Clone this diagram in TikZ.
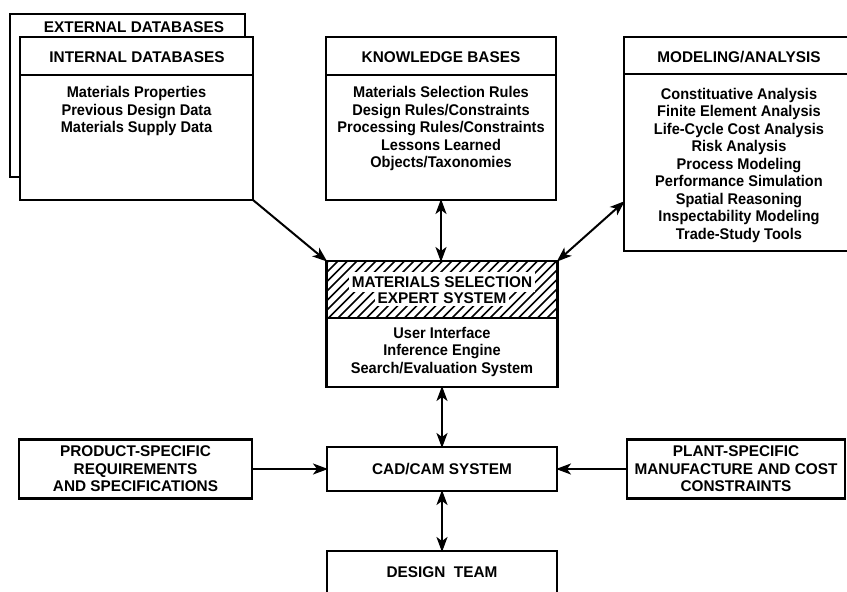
\documentclass[tikz,border=0pt]{standalone}
\usepackage{fontspec}
\newfontfamily\dgfont{Liberation Sans Bold}[FakeStretch=0.94]
\newfontfamily\dgcaps{Liberation Sans Bold}[FakeStretch=0.99]
\usetikzlibrary{arrows.meta,calc}

\tikzset{
  x=1pt, y=-1pt,
  box/.style={draw, line width=2.2pt, fill=white, inner sep=0pt, outer sep=0pt},
  lbl/.style={font=\dgfont\fontsize{15.5pt}{17.5pt}\selectfont, align=center, inner sep=0pt},
  capslbl/.style={font=\dgcaps\fontsize{15.5pt}{17.5pt}\selectfont, align=center, inner sep=0pt},
  knock/.style={capslbl, fill=white, text height=11pt, text depth=0pt, inner xsep=2.5pt},
  rule/.style={line width=2.2pt},
  hatch/.style={line width=1.6pt},
  tip/.tip={Stealth[length=15pt,width=11pt,inset=4pt]},
  onearrow/.style={line width=2pt, -tip, shorten >=-1pt},
  twoarrow/.style={line width=2pt, tip-tip, shorten >=-1pt, shorten <=-1pt},
}

\begin{document}
\begin{tikzpicture}
\useasboundingbox (0,0) rectangle (847,592);

% database stack
\node[box, minimum width=235, minimum height=163] (ext) at (127.5,95.5) {};
\node[capslbl] (extH) at (134,27) {EXTERNAL DATABASES};
\node[box, minimum width=233, minimum height=163] (int) at (136.5,118.5) {};
\draw[rule] ($(int.north west)+(0,38)$) -- ($(int.north east)+(0,38)$);
\node[capslbl] (intH) at (137,57) {INTERNAL DATABASES};
\node[lbl] (intB) at (136.5,111) {Materials Properties\\Previous Design Data\\Materials Supply Data};

% knowledge bases
\node[box, minimum width=230, minimum height=163] (kb) at (441,118.5) {};
\draw[rule] ($(kb.north west)+(0,38)$) -- ($(kb.north east)+(0,38)$);
\node[capslbl] (kbH) at (441,57) {KNOWLEDGE BASES};
\node[lbl] (kbB) at (441,128.5) {Materials Selection Rules\\Design Rules/Constraints\\Processing Rules/Constraints\\Lessons Learned\\Objects/Taxonomies};

% modeling / analysis
\node[box, minimum width=230, minimum height=214] (mod) at (739,144) {};
\draw[rule] ($(mod.north west)+(0,37)$) -- ($(mod.north east)+(0,37)$);
\node[capslbl] (modH) at (739,57) {MODELING/ANALYSIS};
\node[lbl] (modB) at (739,165) {Constituative Analysis\\Finite Element Analysis\\Life-Cycle Cost Analysis\\Risk Analysis\\Process Modeling\\Performance Simulation\\Spatial Reasoning\\Inspectability Modeling\\Trade-Study Tools};

% expert system with hatched title band
\node[box, minimum width=231, minimum height=126] (es) at (442,324) {};
\begin{scope}
  \clip (es.north west) rectangle ($(es.north east)+(0,57)$);
  \foreach \x in {260,269.5,...,570} \draw[hatch] (\x,320) -- (\x+61,259);
\end{scope}
\node[knock, inner ysep=4.5pt] (esH1) at (442,281.5) {MATERIALS SELECTION};
\node[knock, inner ysep=3pt] (esH2) at (442,297.5) {EXPERT SYSTEM};
\draw[line width=2.2pt] (es.north west) rectangle (es.south east);
\draw[rule] ($(es.north west)+(0,57)$) -- ($(es.north east)+(0,57)$);
\node[lbl] (esB) at (442,351.5) {User Interface\\Inference Engine\\Search/Evaluation System};

% lower row
\node[box, minimum width=230, minimum height=44] (cad) at (442,469) {};
\node[capslbl] (cadT) at (442,469) {CAD/CAM SYSTEM};
\node[box, minimum width=233, minimum height=59] (prod) at (135.5,469) {};
\node[capslbl] (prodT) at (135.5,469) {PRODUCT-SPECIFIC\\REQUIREMENTS\\AND SPECIFICATIONS};
\node[box, minimum width=218, minimum height=59] (plant) at (736,469) {};
\node[capslbl] (plantT) at (736,469) {PLANT-SPECIFIC\\MANUFACTURE AND COST\\CONSTRAINTS};
\node[box, minimum width=230, minimum height=69] (team) at (442,585.5) {};
\node[capslbl] (teamT) at (442,572) {DESIGN\ \ TEAM};

% connectors
\coordinate (modport) at ($(mod.north west)!0.77!(mod.south west)$);
\draw[onearrow] (int.south east) -- (es.north west);
\draw[twoarrow] (kb.south) -- (kb.south |- es.north);
\draw[twoarrow] (es.north east) -- (modport);
\draw[twoarrow] (es.south) -- (cad.north);
\draw[twoarrow] (cad.south) -- (team.north);
\draw[onearrow] (prod.east) -- (prod.east -| cad.west);
\draw[onearrow] (plant.west) -- (plant.west -| cad.east);
\end{tikzpicture}
\end{document}
